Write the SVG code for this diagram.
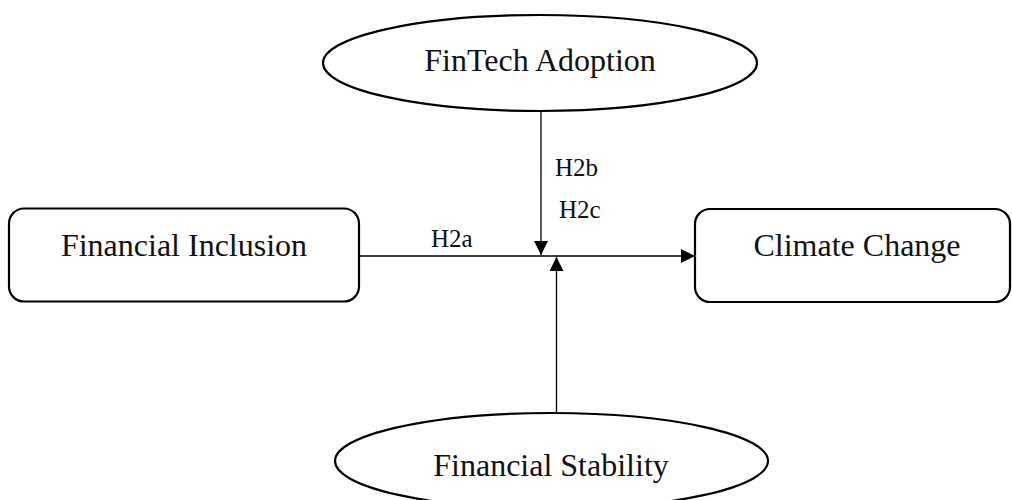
<svg xmlns="http://www.w3.org/2000/svg" width="1012" height="500" viewBox="0 0 1012 500">
  <defs>
    <marker id="arr" markerWidth="14" markerHeight="14" refX="14" refY="7" orient="auto" markerUnits="userSpaceOnUse">
      <path d="M0,0 L14,7 L0,14 Z" fill="#000"/>
    </marker>
    <style>
      .shape { fill: #fff; stroke: #000; stroke-width: 2.2; }
      .main { font-family: "Liberation Serif", "Times New Roman", serif; font-size: 32px; fill: #111; text-anchor: middle; }
      .lbl { font-family: "Liberation Serif", "Times New Roman", serif; font-size: 25px; fill: #111; }
      .conn { stroke: #000; stroke-width: 1.3; fill: none; }
    </style>
  </defs>
  <rect width="1012" height="500" fill="#fff"/>
  <g id="connectors">
    <line class="conn" x1="359" y1="256" x2="695" y2="256" marker-end="url(#arr)"/>
    <line class="conn" x1="541" y1="111" x2="541" y2="255" marker-end="url(#arr)"/>
    <line class="conn" x1="556.5" y1="413" x2="556.5" y2="257" marker-end="url(#arr)"/>
    <text class="lbl" x="431" y="247">H2a</text>
    <text class="lbl" x="555" y="176">H2b</text>
    <text class="lbl" x="559" y="218">H2c</text>
  </g>
  <g id="fintech">
    <ellipse class="shape" cx="540" cy="63" rx="217" ry="48"/>
    <text class="main" x="540" y="71">FinTech Adoption</text>
  </g>
  <g id="inclusion">
    <rect class="shape" x="9" y="208.5" width="350" height="93" rx="15"/>
    <text class="main" x="184" y="256">Financial Inclusion</text>
  </g>
  <g id="climate">
    <rect class="shape" x="695" y="209" width="315" height="93" rx="15"/>
    <text class="main" x="857" y="256">Climate Change</text>
  </g>
  <g id="stability">
    <ellipse class="shape" cx="551.5" cy="461" rx="216.5" ry="48"/>
    <text class="main" x="551" y="476">Financial Stability</text>
  </g>
</svg>
